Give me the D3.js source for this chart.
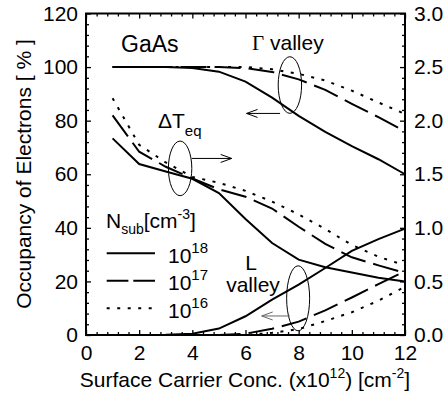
<!DOCTYPE html>
<html>
<head>
<meta charset="utf-8">
<script src="https://cdn.jsdelivr.net/npm/d3@7"></script>
<style>
  body { margin: 0; background: #fff; }
  svg text { font-family: Arial, "Liberation Sans", sans-serif; fill: #000; }
</style>
</head>
<body>
<div id="chart"></div>
<script>
// Surface carrier concentration (x10^12 cm^-2)
const carrier = [1, 2, 3, 4, 5, 6, 7, 8, 9, 10, 11, 12];

// Gamma valley occupancy [%] (left axis)
const gamma18 = [100, 100, 100, 99.7, 98.3, 94.6, 88.6, 81.8, 75.8, 70.5, 65.6, 60];
const gamma17 = [100, 100, 100, 100, 100, 99.6, 98.2, 95.4, 91.5, 86.3, 81.3, 76];
const gamma16 = [100, 100, 100, 100, 100, 100, 99.2, 97.5, 95, 91.2, 86.8, 82.5];

// L valley occupancy [%] (left axis)
const lval18 = [0, 0, 0.1, 0.5, 2.4, 7, 13.2, 18.8, 25, 31.4, 35.8, 39.7];
const lval17 = [0, 0, 0, 0, 0, 0.5, 2.3, 5, 9.2, 14, 19, 23.8];
const lval16 = [0, 0, 0, 0, 0, 0, 0.8, 2.2, 5.2, 8.5, 12.8, 18];

// Delta T_eq (right axis)
const dT18 = [1.835, 1.595, 1.525, 1.458, 1.325, 1.083, 0.858, 0.703, 0.633, 0.583, 0.535, 0.50];
const dT17 = [2.05, 1.71, 1.57, 1.46, 1.36, 1.29, 1.18, 1.01, 0.85, 0.725, 0.65, 0.58];
const dT16 = [2.21, 1.775, 1.61, 1.475, 1.42, 1.345, 1.245, 1.125, 0.99, 0.84, 0.73, 0.65];

const xTicks = [0, 2, 4, 6, 8, 10, 12];
const yLeftTicks = [0, 20, 40, 60, 80, 100, 120];
const yRightTicks = [0, 0.5, 1.0, 1.5, 2.0, 2.5, 3.0];
const legendLabels = ["18", "17", "16"];

const W = 448, H = 397;
const margin = {top: 13.5, right: 43, bottom: 62, left: 86};
const width = W - margin.left - margin.right;
const height = H - margin.top - margin.bottom;

const svg = d3.select("#chart").append("svg")
  .attr("width", W).attr("height", H);
const g = svg.append("g").attr("transform", `translate(${margin.left},${margin.top})`);

const x = d3.scaleLinear().domain([0, 12]).range([0, width]);
const yL = d3.scaleLinear().domain([0, 120]).range([height, 0]);
const yR = d3.scaleLinear().domain([0, 3]).range([height, 0]);

const fs = 21;
const styles = {
  "18": null,
  "17": "26,8",
  "16": "3,7.5"
};

// minor ticks
const xMinor = d3.range(0, 12.001, 0.4).filter(v => Math.abs(v / 2 - Math.round(v / 2)) > 1e-6);
const yLMinor = d3.range(0, 120.001, 4).filter(v => v % 20 !== 0);
const yRMinor = d3.range(0, 30.001, 1).filter(v => v % 5 !== 0).map(v => v / 10);

function styleAxis(sel) {
  sel.select(".domain").remove();
  sel.selectAll(".tick line").attr("stroke", "#000").attr("stroke-width", 1.3);
  sel.selectAll(".tick text").attr("font-size", fs).attr("font-family", "Arial, 'Liberation Sans', sans-serif");
}

// bottom
g.append("g").attr("transform", `translate(0,${height})`)
  .call(d3.axisBottom(x).tickValues(xTicks).tickSize(-5).tickPadding(10).tickFormat(d3.format("d")))
  .call(styleAxis);
g.append("g").attr("transform", `translate(0,${height})`)
  .call(d3.axisBottom(x).tickValues(xMinor).tickSize(-3).tickFormat(""))
  .call(styleAxis);
// top
g.append("g")
  .call(d3.axisTop(x).tickValues(xTicks).tickSize(-5).tickFormat(""))
  .call(styleAxis);
g.append("g")
  .call(d3.axisTop(x).tickValues(xMinor).tickSize(-3).tickFormat(""))
  .call(styleAxis);
// left
g.append("g")
  .call(d3.axisLeft(yL).tickValues(yLeftTicks).tickSize(-5).tickPadding(8).tickFormat(d3.format("d")))
  .call(styleAxis);
g.append("g")
  .call(d3.axisLeft(yL).tickValues(yLMinor).tickSize(-3).tickFormat(""))
  .call(styleAxis);
// right
g.append("g").attr("transform", `translate(${width},0)`)
  .call(d3.axisRight(yR).tickValues(yRightTicks).tickSize(-5).tickPadding(9).tickFormat(d3.format(".1f")))
  .call(styleAxis);
g.append("g").attr("transform", `translate(${width},0)`)
  .call(d3.axisRight(yR).tickValues(yRMinor).tickSize(-3).tickFormat(""))
  .call(styleAxis);

// frame
g.append("rect").attr("width", width).attr("height", height)
  .attr("fill", "none").attr("stroke", "#000").attr("stroke-width", 2);

// curves
const series = [
  {vals: gamma18, n: "18", y: yL}, {vals: gamma17, n: "17", y: yL}, {vals: gamma16, n: "16", y: yL},
  {vals: lval18, n: "18", y: yL}, {vals: lval17, n: "17", y: yL}, {vals: lval16, n: "16", y: yL},
  {vals: dT18, n: "18", y: yR}, {vals: dT17, n: "17", y: yR}, {vals: dT16, n: "16", y: yR}
];
g.selectAll(".curve")
  .data(series)
  .join("path")
  .attr("class", "curve")
  .attr("fill", "none")
  .attr("stroke", "#000")
  .attr("stroke-width", 2)
  .attr("stroke-dasharray", d => styles[d.n])
  .attr("d", s => d3.line()
      .x((d, i) => x(carrier[i]))
      .y(d => s.y(d))(s.vals));

// annotations
function ellipse(cx, cy, rx, ry) {
  g.append("ellipse").attr("cx", x(cx)).attr("cy", yL(cy)).attr("rx", rx).attr("ry", ry)
    .attr("fill", "none").attr("stroke", "#000").attr("stroke-width", 1);
}
function arrow(x1, x2, yv, color) {
  const px1 = x(x1), px2 = x(x2), py = yL(yv);
  const dir = px2 > px1 ? 1 : -1;
  g.append("path")
    .attr("d", `M${px1},${py}H${px2}M${px2 - dir * 11},${py - 4}L${px2},${py}L${px2 - dir * 11},${py + 4}`)
    .attr("fill", "none").attr("stroke", color).attr("stroke-width", 1);
}
ellipse(7.67, 93.3, 11.7, 28.3);
arrow(7.3, 6.04, 82.7, "#000");
ellipse(3.54, 62.2, 11.7, 27.3);
arrow(3.98, 5.48, 65.9, "#000");
ellipse(7.98, 13.7, 11.5, 32.5);
arrow(7.67, 6.61, 7.1, "#666");

// text labels (svg coords)
svg.append("text").attr("x", 121).attr("y", 52).attr("font-size", 23).text("GaAs");

const gv = svg.append("text").attr("x", 252).attr("y", 50).attr("font-size", fs);
gv.append("tspan").attr("font-family", "'Times New Roman', 'Liberation Serif', serif").text("\u0393");
gv.append("tspan").text(" valley");

const dt = svg.append("text").attr("x", 158).attr("y", 128).attr("font-size", fs);
dt.append("tspan").text("\u0394T");
dt.append("tspan").attr("font-size", 15).attr("dy", 8).text("eq");

svg.append("text").attr("x", 251).attr("y", 270).attr("font-size", fs).attr("text-anchor", "middle").text("L");
svg.append("text").attr("x", 253).attr("y", 292).attr("font-size", fs).attr("text-anchor", "middle").text("valley");

// legend
const lt = svg.append("text").attr("x", 106).attr("y", 228).attr("font-size", fs);
lt.append("tspan").text("N");
lt.append("tspan").attr("font-size", 14).attr("dy", 6).text("sub");
lt.append("tspan").attr("dy", -6).text("[cm");
lt.append("tspan").attr("font-size", 14).attr("dy", -9).text("-3");
lt.append("tspan").attr("dy", 9).text("]");

const legendY = [253.3, 280.7, 308.3];
legendLabels.forEach((n, i) => {
  svg.append("line").attr("x1", 106.7).attr("x2", 155).attr("y1", legendY[i]).attr("y2", legendY[i])
    .attr("stroke", "#000").attr("stroke-width", 2)
    .attr("stroke-dasharray", n === "17" ? "21.7,4.9" : styles[n]);
  const t = svg.append("text").attr("x", 168).attr("y", legendY[i] + 9.5).attr("font-size", fs);
  t.append("tspan").text("10");
  t.append("tspan").attr("font-size", 15).attr("dy", -10).text(n);
});

// axis titles
const xt = svg.append("text").attr("x", 245).attr("y", 387).attr("font-size", fs).attr("text-anchor", "middle");
xt.append("tspan").text("Surface Carrier Conc. (x10");
xt.append("tspan").attr("font-size", 14).attr("dy", -9).text("12");
xt.append("tspan").attr("dy", 9).text(") [cm");
xt.append("tspan").attr("font-size", 14).attr("dy", -9).text("-2");
xt.append("tspan").attr("dy", 9).text("]");

svg.append("text").attr("transform", "translate(31,174) rotate(-90)")
  .attr("font-size", fs).attr("text-anchor", "middle")
  .text("Occupancy of Electrons [ % ]");
</script>
</body>
</html>
